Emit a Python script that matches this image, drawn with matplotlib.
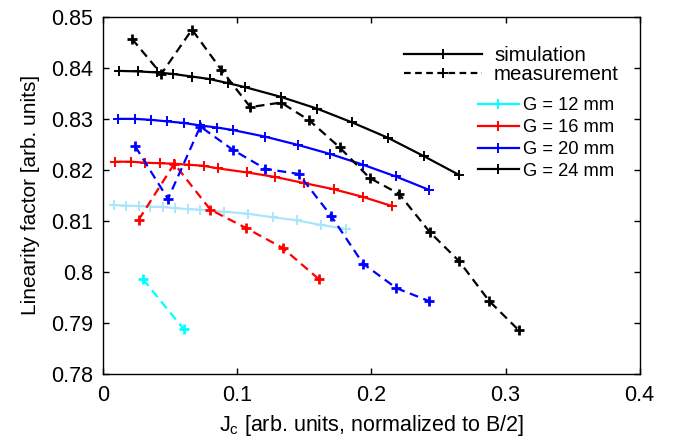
import matplotlib
matplotlib.use('Agg')
import matplotlib.pyplot as plt
from matplotlib.lines import Line2D

plt.rcParams['font.family'] = ['Liberation Sans', 'DejaVu Sans']
plt.rcParams['mathtext.fontset'] = 'custom'
plt.rcParams['mathtext.rm'] = 'Liberation Sans'

# simulation curves (solid)
sim12_x = [0.0077, 0.0172, 0.0264, 0.0351, 0.0445, 0.0537, 0.0629, 0.0719, 0.0898, 0.1080, 0.1263, 0.1445, 0.1624, 0.1812]
sim12_y = [0.8131, 0.8130, 0.8129, 0.8128, 0.8127, 0.8125, 0.8123, 0.8122, 0.8118, 0.8114, 0.8107, 0.8101, 0.8092, 0.8084]
sim16_x = [0.0090, 0.0209, 0.0313, 0.0425, 0.0530, 0.0637, 0.0748, 0.0853, 0.1072, 0.1284, 0.1500, 0.1719, 0.1936, 0.2154]
sim16_y = [0.8216, 0.8216, 0.8214, 0.8213, 0.8212, 0.8210, 0.8208, 0.8203, 0.8195, 0.8186, 0.8174, 0.8162, 0.8147, 0.8129]
sim20_x = [0.0110, 0.0234, 0.0358, 0.0475, 0.0600, 0.0724, 0.0848, 0.0968, 0.1209, 0.1450, 0.1694, 0.1938, 0.2182, 0.2428]
sim20_y = [0.8300, 0.8300, 0.8298, 0.8295, 0.8292, 0.8287, 0.8283, 0.8278, 0.8265, 0.8249, 0.8231, 0.8210, 0.8187, 0.8161]
sim24_x = [0.0119, 0.0259, 0.0400, 0.0520, 0.0660, 0.0794, 0.0930, 0.1060, 0.1326, 0.1595, 0.1856, 0.2122, 0.2390, 0.2654]
sim24_y = [0.8394, 0.8393, 0.8391, 0.8388, 0.8383, 0.8378, 0.8370, 0.8362, 0.8343, 0.8320, 0.8293, 0.8263, 0.8227, 0.8190]

# measurement curves (dashed)
mea12_x = [0.0296, 0.0599]
mea12_y = [0.7986, 0.7888]
mea16_x = [0.0264, 0.0530, 0.0799, 0.1065, 0.1338, 0.1607]
mea16_y = [0.8102, 0.8212, 0.8122, 0.8086, 0.8047, 0.7986]
mea20_x = [0.0239, 0.0483, 0.0724, 0.0968, 0.1209, 0.1457, 0.1699, 0.1938, 0.2187, 0.2428]
mea20_y = [0.8246, 0.8143, 0.8285, 0.8239, 0.8202, 0.8192, 0.8110, 0.8016, 0.7968, 0.7943]
mea24_x = [0.0214, 0.0433, 0.0662, 0.0881, 0.1097, 0.1326, 0.1537, 0.1763, 0.1987, 0.2206, 0.2435, 0.2654, 0.2878, 0.3097]
mea24_y = [0.8457, 0.8388, 0.8475, 0.8396, 0.8323, 0.8332, 0.8297, 0.8244, 0.8184, 0.8153, 0.8078, 0.8021, 0.7943, 0.7886]

gap_labels = ['G = 12 mm', 'G = 16 mm', 'G = 20 mm', 'G = 24 mm']
colors = ['#00ffff', '#ff0000', '#0000ff', '#000000']
sim_colors = ['#aae6fa', '#ff0000', '#0000ff', '#000000']

fig = plt.figure(figsize=(6.79, 4.43), dpi=100)
ax = fig.add_axes([0.152, 0.156, 0.79, 0.806])

sims = [(sim12_x, sim12_y), (sim16_x, sim16_y), (sim20_x, sim20_y), (sim24_x, sim24_y)]
meas = [(mea12_x, mea12_y), (mea16_x, mea16_y), (mea20_x, mea20_y), (mea24_x, mea24_y)]
for (sx, sy), c in zip(sims, sim_colors):
    ax.plot(sx, sy, '-', color=c, lw=1.6, marker='+', ms=7, mew=1.4)
for (mx, my), c in zip(meas, colors):
    ax.plot(mx, my, '--', color=c, lw=1.6, marker='+', ms=7, mew=2, dashes=(4, 2.5))

ax.set_xlim(0, 0.4)
ax.set_ylim(0.78, 0.85)
ax.set_xticks([0, 0.1, 0.2, 0.3, 0.4])
ax.set_xticklabels(['0', '0.1', '0.2', '0.3', '0.4'])
ax.set_yticks([0.78, 0.79, 0.8, 0.81, 0.82, 0.83, 0.84, 0.85])
ax.set_yticklabels(['0.78', '0.79', '0.8', '0.81', '0.82', '0.83', '0.84', '0.85'])
ax.tick_params(direction='in', top=True, right=True, labelsize=15.5, length=4, width=1)
ax.tick_params(axis='x', pad=8)
ax.tick_params(axis='y', pad=7)
for s in ax.spines.values():
    s.set_linewidth(1)
ax.set_ylabel('Linearity factor [arb. units]', fontsize=15, labelpad=8)
ax.set_xlabel(r'J$_\mathregular{c}$ [arb. units, normalized to B/2]', fontsize=15.5, labelpad=5)

# legend 1: line style
h1 = [Line2D([], [], color='k', ls='-', lw=1.6, marker='+', ms=7, mew=1.4),
      Line2D([], [], color='k', ls='--', lw=1.6, marker='+', ms=7, mew=1.4, dashes=(3, 2))]
leg1 = ax.legend(h1, ['simulation', 'measurement'], loc='upper left',
                 bbox_to_anchor=(0.542, 0.946), frameon=False, fontsize=14.7,
                 handlelength=3.8, handletextpad=0.6, labelspacing=0.0, borderpad=0)
ax.add_artist(leg1)

# legend 2: gaps
h2 = [Line2D([], [], color=c, ls='-', lw=1.6, marker='+', ms=7, mew=1.4) for c in colors]
ax.legend(h2, gap_labels, loc='upper left', bbox_to_anchor=(0.681, 0.801),
          frameon=False, fontsize=13.2, handlelength=2.24, handletextpad=0.22,
          labelspacing=0.27, borderpad=0)

fig.savefig('out.png', dpi=100)
